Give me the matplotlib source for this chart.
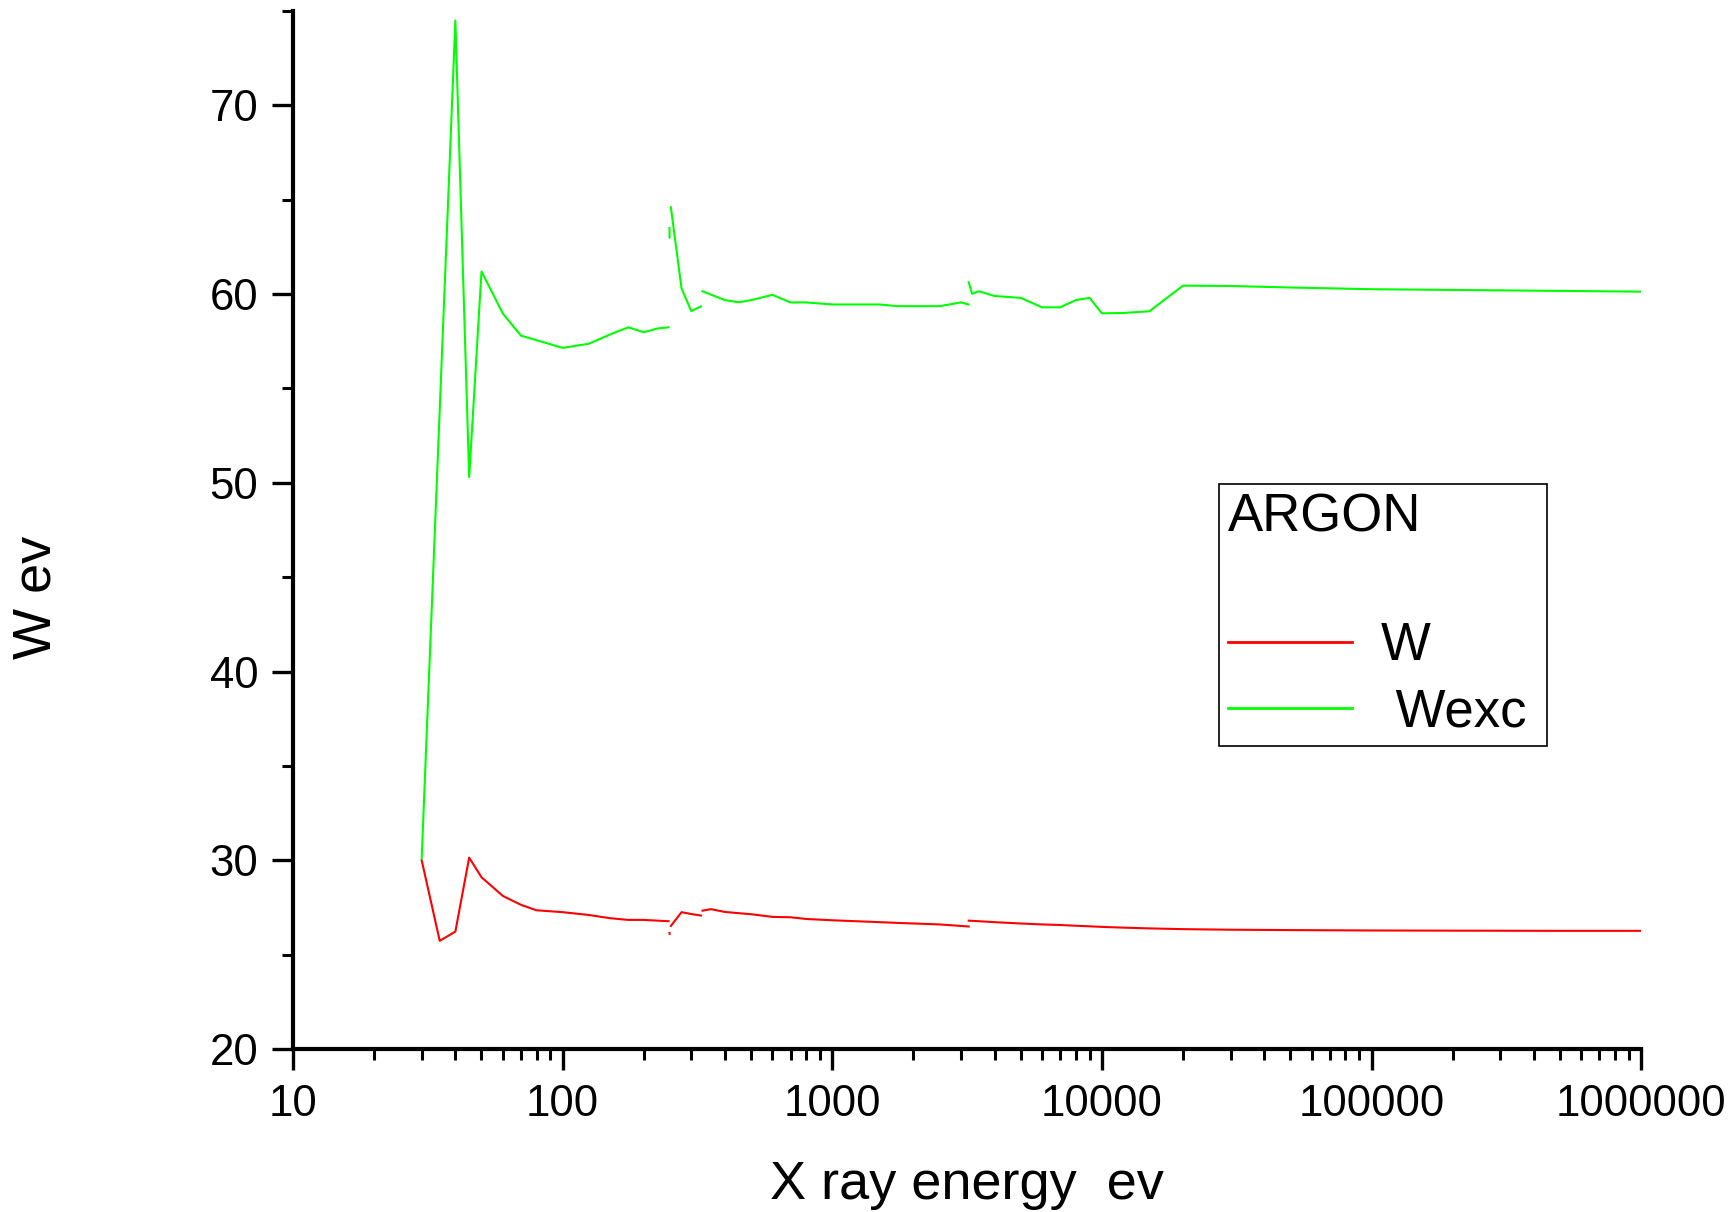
import numpy as np
import matplotlib
matplotlib.use('Agg')
import matplotlib.pyplot as plt
import matplotlib.ticker as ticker

plt.rcParams['font.family'] = ['Liberation Sans', 'DejaVu Sans']

nan = np.nan

# W curve (red), NaN marks the breaks in the data
energy_w = [30, 35, 40, 45, 50, 60, 70, 80, 100, 125, 150, 175, 200, 225, 247, nan,
            249, 249.3, nan,
            252, 276, 300, 326, nan,
            330, 355, 400, 500, 600, 700, 800, 1000, 1500, 1750, 2500, 3000, 3205, nan,
            3206, 3300, 3500, 4000, 5000, 6000, 7000, 8000, 9000, 10000, 12000, 15000,
            20000, 30000, 50000, 100000, 200000, 500000, 1000000]
w_values = [30.0, 25.73, 26.22, 30.14, 29.1, 28.11, 27.64, 27.35, 27.25, 27.1, 26.93, 26.84, 26.84, 26.8, 26.77, nan,
            26.15, 26.1, nan,
            26.52, 27.25, 27.15, 27.07, nan,
            27.33, 27.41, 27.26, 27.14, 27.0, 26.98, 26.89, 26.82, 26.72, 26.68, 26.6, 26.52, 26.49, nan,
            26.8, 26.79, 26.77, 26.72, 26.65, 26.6, 26.57, 26.53, 26.5, 26.47, 26.43, 26.39,
            26.35, 26.32, 26.3, 26.28, 26.27, 26.26, 26.26]

# Wexc curve (green)
energy_wexc = [30, 40, 45, 50, 60, 70, 80, 100, 125, 150, 175, 200, 225, 247, nan,
               249, 249.2, nan,
               252, 276, 300, 326, nan,
               330, 400, 450, 500, 600, 700, 800, 1000, 1500, 1750, 2500, 3000, 3205, nan,
               3206, 3300, 3500, 4000, 5000, 6000, 7000, 8000, 9000, 10000, 12000, 15000,
               20000, 30000, 50000, 100000, 200000, 500000, 1000000]
wexc_values = [30.1, 74.5, 50.3, 61.2, 58.97, 57.8, 57.56, 57.15, 57.37, 57.86, 58.24, 57.98, 58.18, 58.24, nan,
               63.5, 63.0, nan,
               64.6, 60.3, 59.1, 59.35, nan,
               60.15, 59.68, 59.57, 59.68, 59.96, 59.56, 59.56, 59.45, 59.45, 59.36, 59.36, 59.56, 59.45, nan,
               60.63, 60.02, 60.15, 59.9, 59.8, 59.3, 59.3, 59.68, 59.8, 58.98, 59.0, 59.09,
               60.45, 60.43, 60.35, 60.26, 60.22, 60.17, 60.13]

fig = plt.figure(figsize=(17.35, 12.12), dpi=100)
ax = fig.add_axes([0.1689, 0.1345, 0.777, 0.8564])

ax.plot(energy_w, w_values, color='#ff0000', lw=1.5, label='W')
ax.plot(energy_wexc, wexc_values, color='#00ff00', lw=1.5, label=' Wexc')

ax.set_xscale('log')
ax.set_xlim(10, 1e6)
ax.set_ylim(20, 75)

ax.xaxis.set_major_locator(ticker.LogLocator(base=10, numticks=10))
ax.xaxis.set_minor_locator(ticker.LogLocator(base=10, subs=np.arange(2, 10), numticks=20))
ax.xaxis.set_major_formatter(ticker.FuncFormatter(lambda v, p: f'{int(round(v))}'))
ax.xaxis.set_minor_formatter(ticker.NullFormatter())
ax.yaxis.set_major_locator(ticker.MultipleLocator(10))
ax.yaxis.set_minor_locator(ticker.MultipleLocator(5))
ax.yaxis.set_major_formatter(ticker.FuncFormatter(lambda v, p: f'{int(v)}' if v < 75 else ''))

for side in ['top', 'right']:
    ax.spines[side].set_visible(False)
for side in ['left', 'bottom']:
    ax.spines[side].set_linewidth(3)

ax.tick_params(which='major', direction='out', length=15, width=2.4, labelsize=31.5, pad=10)
ax.tick_params(which='minor', direction='out', length=8, width=2.2)

ax.set_xlabel('X ray energy  ev', fontsize=39)
ax.set_ylabel('W ev', fontsize=39)
ax.xaxis.set_label_coords(0.5, -0.131)
ax.xaxis.label.set_va('center')
ax.yaxis.set_label_coords(-0.190, 0.435)
ax.yaxis.label.set_va('center')

leg = ax.legend(title='ARGON\n', loc='upper left', bbox_to_anchor=(0.687, 0.296, 0.243, 0.2483),
                mode='expand', fontsize=38, title_fontsize=38, alignment='left',
                handlelength=2.34, handletextpad=0.55, labelspacing=0.31, borderpad=0.17,
                borderaxespad=0, fancybox=False, framealpha=1, edgecolor='black')
leg.get_title().set_linespacing(1.3)
leg.get_frame().set_linewidth(1.2)
for line in leg.get_lines():
    line.set_linewidth(2)

fig.savefig('out.png', dpi=100)
